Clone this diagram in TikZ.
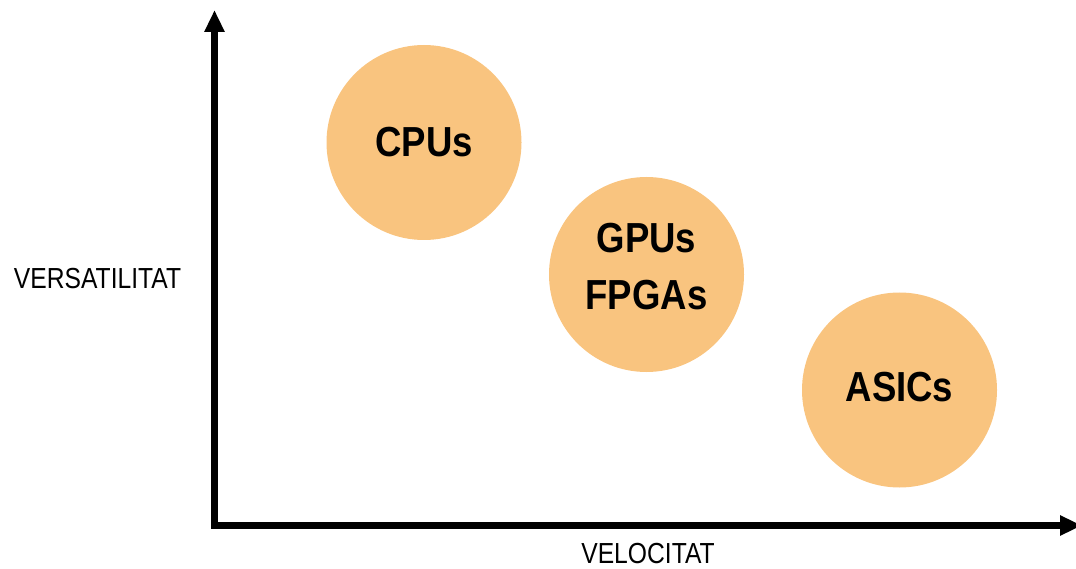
\documentclass[tikz,border=0pt]{standalone}
\usepackage{fontspec}
\setmainfont{Liberation Sans}
\newfontfamily\axisfont[FakeStretch=0.85]{Liberation Sans}
\newfontfamily\bubblefont[FakeStretch=0.87]{Liberation Sans}
\usetikzlibrary{arrows.meta}
\definecolor{bubblefill}{RGB}{249,196,127}
\begin{document}
\begin{tikzpicture}[x=1pt,y=-1pt,
  bubble/.style={circle,fill=bubblefill,draw=none,minimum size=195pt,inner sep=0pt},
  bubbletext/.style={font=\bubblefont\bfseries\fontsize{42}{57}\selectfont,align=center,inner sep=0pt},
  axislabel/.style={font=\axisfont\fontsize{29}{34}\selectfont,inner sep=0pt},
  axisline/.style={line width=7pt,line join=miter,
    {Triangle[width=19pt,length=22pt]}-{Triangle[width=19pt,length=22pt]}}]
  \useasboundingbox (0,0) rectangle (1076,569);

  % axes
  \coordinate (ytip) at (214.5,10);
  \coordinate (origin) at (214.5,525.5);
  \coordinate (xtip) at (1082,525.5);
  \draw[axisline] (ytip) -- (origin) -- (xtip);

  % axis labels
  \node[axislabel] (ylab) at (97.5,278.5) {VERSATILITAT};
  \node[axislabel] (xlab) at (648,554) {VELOCITAT};

  % processor families
  \node[bubble] (cpu) at (424,142.5) {};
  \node[bubbletext] (cputext) at (424,142) {CPUs};

  \node[bubble] (gpu) at (646.5,274.5) {};
  \node[bubbletext] (gputext) at (646.5,267) {GPUs\\FPGAs};

  \node[bubble] (asic) at (899.5,390) {};
  \node[bubbletext] (asictext) at (899.5,387) {ASICs};
\end{tikzpicture}
\end{document}
